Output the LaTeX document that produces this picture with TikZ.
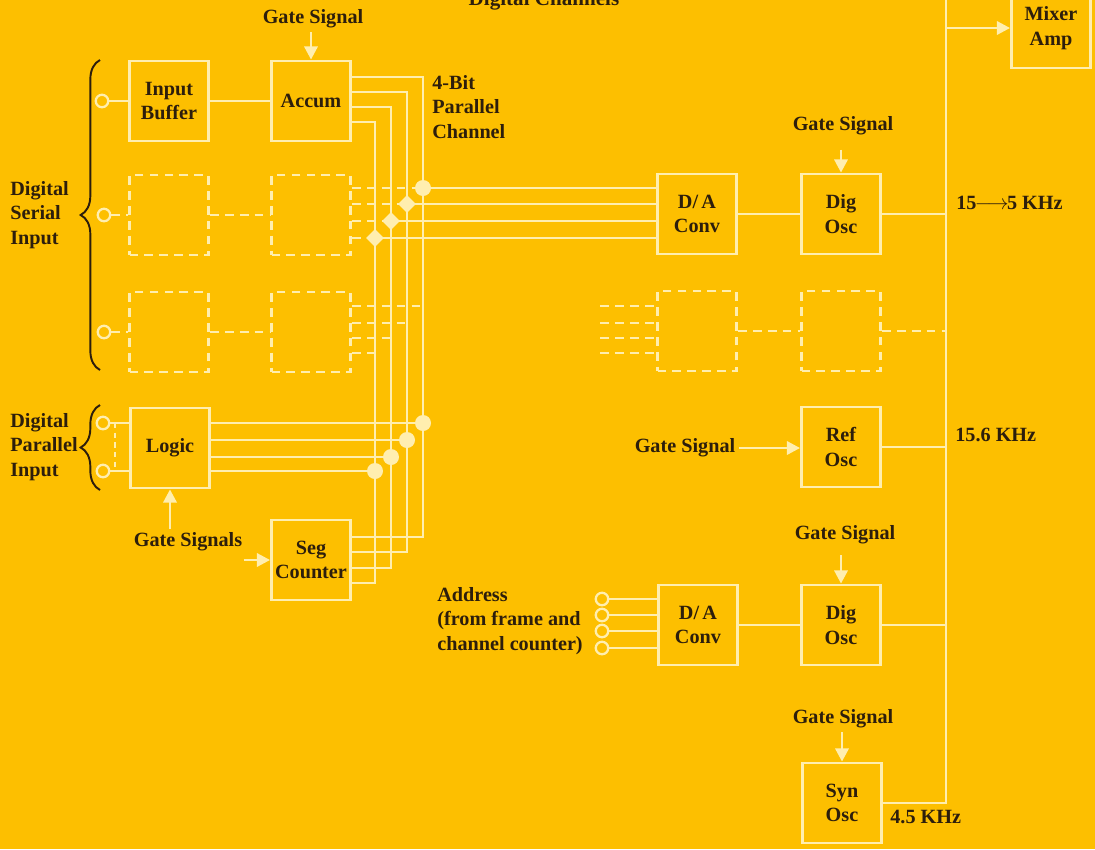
\documentclass[tikz,border=0pt]{standalone}
\usepackage{fontspec}
\setmainfont{Liberation Serif}
\usetikzlibrary{arrows.meta,shapes.geometric,decorations.pathreplacing}

\definecolor{paper}{RGB}{253,191,0}
\definecolor{wire}{RGB}{255,238,175}
\definecolor{ink}{RGB}{45,30,12}

\newcommand{\chfont}{\fontsize{11.5}{14}\selectfont\bfseries}

\tikzset{
  wire/.style={draw=wire, line width=1.6pt},
  dwire/.style={wire, dash pattern=on 5pt off 3.5pt},
  blk/.style={wire, minimum width=1.58cm, minimum height=1.6cm, inner sep=0pt,
    align=center, text=ink, font=\chfont},
  dblk/.style={blk, dash pattern=on 5pt off 3.5pt},
  sig/.style={wire, -{Triangle[length=7.5pt,width=7.5pt]}, shorten <=2pt},
  lbl/.style={text=ink, font=\chfont, inner sep=0pt},
  jack/.style={circle, draw=wire, fill=paper, line width=1.3pt, minimum size=0.25cm, inner sep=0pt},
  dot/.style={circle, fill=wire, minimum size=0.32cm, inner sep=0pt},
  kite/.style={diamond, fill=wire, minimum size=0.36cm, inner sep=0pt},
  curly/.style={draw=ink, line width=1.1pt, decorate, decoration={brace, amplitude=11pt}},
}

\begin{document}
\begin{tikzpicture}[x=0.02cm, y=-0.02cm]
    % Paper
    \path[fill=paper, use as bounding box] (0,0) rectangle (1095,849);

    % Title, cut by the top edge
    \node[lbl, font=\fontsize{12}{14}\selectfont\bfseries, anchor=base] (title) at (544,5) {Digital Channels};

    % Blocks
    \node[blk] (buf) at (169,101) {Input\\Buffer};
    \node[blk] (acc) at (311,101) {Accum};
    \node[dblk] (s2a) at (169,215) {};
    \node[dblk] (s2b) at (311,215) {};
    \node[dblk] (s3a) at (169,332) {};
    \node[dblk] (s3b) at (311,332) {};
    \node[blk] (logic) at (170,448) {Logic};
    \node[blk] (seg) at (311,560) {Seg\\Counter};
    \node[blk] (da1) at (697,214) {D/\,A\\Conv};
    \node[blk] (osc1) at (841,214) {Dig\\Osc};
    \node[dblk] (da3) at (697,331) {};
    \node[dblk] (osc3) at (841,331) {};
    \node[blk] (ref) at (841,447) {Ref\\Osc};
    \node[blk] (da2) at (698,625) {D/\,A\\Conv};
    \node[blk] (osc2) at (841,625) {Dig\\Osc};
    \node[blk] (syn) at (842,803) {Syn\\Osc};
    \node[blk] (mix) at (1051,28) {Mixer\\Amp};

    % Input jacks
    \node[jack] (in1) at (102,101) {};
    \node[jack] (in2) at (104,215) {};
    \node[jack] (in3) at (104,332) {};
    \node[jack] (pin1) at (103,423) {};
    \node[jack] (pin2) at (103,471) {};
    \node[jack] (ad1) at (602,599) {};
    \node[jack] (ad2) at (602,615) {};
    \node[jack] (ad3) at (602,631) {};
    \node[jack] (ad4) at (602,648) {};

    % Labels
    \node[lbl, anchor=west, align=left] (dsi) at (10,215) {Digital\\Serial\\Input};
    \node[lbl, anchor=west, align=left] (dpi) at (10,447) {Digital\\Parallel\\Input};
    \node[lbl, anchor=west, align=left] (pch) at (432,107) {4-Bit\\Parallel\\Channel};
    \node[lbl] (gs1) at (313,19) {Gate Signal};
    \node[lbl] (gs2) at (843,126) {Gate Signal};
    \node[lbl] (gs3) at (685,448) {Gate Signal};
    \node[lbl] (gs4) at (845,535) {Gate Signal};
    \node[lbl] (gs5) at (843,719) {Gate Signal};
    \node[lbl] (gs6) at (188,542) {Gate Signals};
    \node[lbl, anchor=west, align=left] (addr) at (437,621) {Address\\(from frame and\\channel counter)};
    \node[lbl, anchor=west] (fr1) at (956,203) {15\kern-1pt$\longrightarrow$\kern-1pt5 KHz};
    \node[lbl, anchor=west] (fr2) at (955,435) {15.6 KHz};
    \node[lbl, anchor=west] (fr3) at (890,817) {4.5 KHz};

    % Braces
    \draw[curly] (100,370) -- (100,60);
    \draw[curly] (100,490) -- (100,405);

    % Serial rows
    \draw[wire] (in1) -- (buf);
    \draw[wire] (buf) -- (acc);
    \draw[dwire] (in2) -- (s2a);
    \draw[dwire] (s2a) -- (s2b);
    \draw[dwire] (in3) -- (s3a);
    \draw[dwire] (s3a) -- (s3b);

    % Parallel inputs
    \draw[wire] (pin1) -- (logic.west |- pin1);
    \draw[wire] (pin2) -- (logic.west |- pin2);
    \draw[dwire, dash pattern=on 3pt off 2.5pt] ([xshift=0.24cm]pin1.center) -- ([xshift=0.24cm]pin2.center);

    % 4-bit bus, Accum down to Seg Counter
    \draw[wire] (acc.east |- 0,77) -- (423,77) -- (423,537) -- (seg.east |- 0,537);
    \draw[wire] (acc.east |- 0,92) -- (407,92) -- (407,552) -- (seg.east |- 0,552);
    \draw[wire] (acc.east |- 0,107) -- (391,107) -- (391,568) -- (seg.east |- 0,568);
    \draw[wire] (acc.east |- 0,122) -- (375,122) -- (375,583) -- (seg.east |- 0,583);

    % Bus taps
    \coordinate (j1) at (423,188);
    \coordinate (j2) at (407,204);
    \coordinate (j3) at (391,221);
    \coordinate (j4) at (375,238);
    \coordinate (k1) at (423,423);
    \coordinate (k2) at (407,440);
    \coordinate (k3) at (391,457);
    \coordinate (k4) at (375,471);

    \draw[dwire] (s2b.east |- j1) -- (j1);
    \draw[dwire] (s2b.east |- j2) -- (j2);
    \draw[dwire] (s2b.east |- j3) -- (j3);
    \draw[dwire] (s2b.east |- j4) -- (j4);
    \draw[wire] (j1) -- (da1.west |- j1);
    \draw[wire] (j2) -- (da1.west |- j2);
    \draw[wire] (j3) -- (da1.west |- j3);
    \draw[wire] (j4) -- (da1.west |- j4);

    \draw[dwire] (s3b.east |- 0,306) -- (423,306);
    \draw[dwire] (s3b.east |- 0,323) -- (407,323);
    \draw[dwire] (s3b.east |- 0,338) -- (391,338);
    \draw[dwire] (s3b.east |- 0,353) -- (375,353);

    \draw[wire] (logic.east |- k1) -- (k1);
    \draw[wire] (logic.east |- k2) -- (k2);
    \draw[wire] (logic.east |- k3) -- (k3);
    \draw[wire] (logic.east |- k4) -- (k4);

    \node[dot] (m1) at (j1) {};
    \node[kite] (m2) at (j2) {};
    \node[kite] (m3) at (j3) {};
    \node[kite] (m4) at (j4) {};
    \node[dot] (n1) at (k1) {};
    \node[dot] (n2) at (k2) {};
    \node[dot] (n3) at (k3) {};
    \node[dot] (n4) at (k4) {};

    % Right side channels
    \coordinate (e1) at (600,306);
    \coordinate (e2) at (600,323);
    \coordinate (e3) at (600,338);
    \coordinate (e4) at (600,353);
    \draw[dwire] (e1) -- (da3.west |- e1);
    \draw[dwire] (e2) -- (da3.west |- e2);
    \draw[dwire] (e3) -- (da3.west |- e3);
    \draw[dwire] (e4) -- (da3.west |- e4);

    \draw[wire] (da1) -- (osc1);
    \draw[dwire] (da3) -- (osc3);
    \draw[wire] (da2) -- (osc2);
    \draw[wire] (ad1) -- (da2.west |- ad1);
    \draw[wire] (ad2) -- (da2.west |- ad2);
    \draw[wire] (ad3) -- (da2.west |- ad3);
    \draw[wire] (ad4) -- (da2.west |- ad4);

    % Gate signals
    \draw[sig] (acc.north |- gs1.south) -- (acc.north);
    \draw[sig, shorten <=8pt] (osc1.north |- gs2.south) -- (osc1.north);
    \draw[sig] (gs3.east) -- (ref.west |- gs3.east);
    \draw[sig, shorten <=6pt] (osc2.north |- gs4.south) -- (osc2.north);
    \draw[sig] (syn.north |- gs5.south) -- (syn.north);
    \draw[sig] (logic.south |- gs6.north) -- (logic.south);
    \coordinate (sa) at (240,560);
    \draw[sig] (sa) -- (seg.west);

    % Output bus to Mixer Amp
    \coordinate (bt) at (946,-10);
    \draw[wire] (syn.east) -- (syn.east -| bt) -- (bt);
    \draw[wire] (osc1) -- (osc1 -| bt);
    \draw[dwire] (osc3) -- (osc3 -| bt);
    \draw[wire] (ref) -- (ref -| bt);
    \draw[wire] (osc2) -- (osc2 -| bt);
    \draw[sig, shorten <=0pt] (mix.west -| bt) -- (mix.west);

\end{tikzpicture}
\end{document}
